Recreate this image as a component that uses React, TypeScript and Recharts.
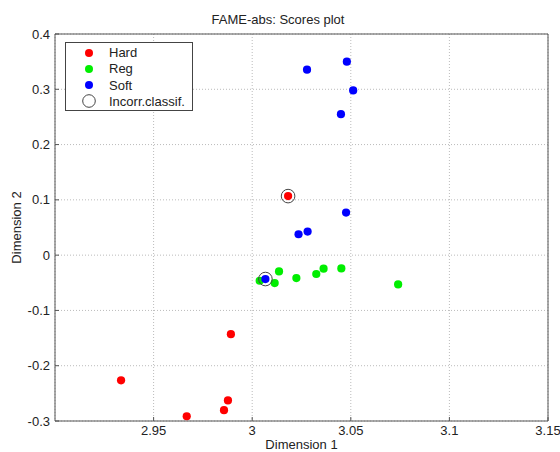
import { ScatterChart, Scatter, XAxis, YAxis, CartesianGrid } from 'recharts'

const hardX = [2.9335, 2.9668, 2.9857, 2.9877, 2.9892, 3.0182]
const hardY = [-0.2265, -0.2914, -0.2804, -0.2628, -0.143, 0.1068]
const regX = [3.0038, 3.0114, 3.0136, 3.0224, 3.0325, 3.0362, 3.0452, 3.074]
const regY = [-0.0463, -0.0505, -0.0294, -0.0414, -0.0341, -0.0245, -0.024, -0.053]
const softX = [3.0278, 3.048, 3.0512, 3.045, 3.0476, 3.0235, 3.0281, 3.0067]
const softY = [0.3354, 0.35, 0.298, 0.255, 0.077, 0.0378, 0.0427, -0.0432]
const incorrX = [3.0182, 3.0067]
const incorrY = [0.1068, -0.0432]

const xTicks = [2.95, 3, 3.05, 3.1, 3.15]
const yTicks = [-0.3, -0.2, -0.1, 0, 0.1, 0.2, 0.3, 0.4]

const toPoints = (xs: number[], ys: number[]) => xs.map((x, i) => ({ x, y: ys[i] }))

const FONT = '"Liberation Sans", Arial, sans-serif'
const tickStyle = { fontSize: 13, fill: '#222', fontFamily: FONT }
const axisColor = '#555'

const dot = (color: string) => (p: any) => <circle cx={p.cx} cy={p.cy} r={4.1} fill={color} />
const ring = (p: any) => <circle cx={p.cx} cy={p.cy} r={6.8} fill="none" stroke="#444" strokeWidth={1} />

const legendItems = [
  { label: 'Hard', color: '#ff0000' },
  { label: 'Reg', color: '#00ee00' },
  { label: 'Soft', color: '#0000ff' },
  { label: 'Incorr.classif.', color: null },
]

export default function App() {
  return (
    <div style={{ position: 'relative', width: 560, height: 452, background: '#fff', fontFamily: FONT }}>
      <style>{'body{margin:0}'}</style>
      <div
        style={{
          position: 'absolute',
          left: 178,
          width: 200,
          top: 12,
          textAlign: 'center',
          fontSize: 13,
          color: '#222',
        }}
      >
        FAME-abs: Scores plot
      </div>
      <ScatterChart width={560} height={452} margin={{ top: 33, right: 11, bottom: 0, left: 0 }}>
        <CartesianGrid stroke="#bbb" strokeDasharray="1 2" xAxisId="x" yAxisId="y" />
        <XAxis
          xAxisId="x"
          dataKey="x"
          type="number"
          domain={[2.9, 3.15]}
          ticks={xTicks}
          interval={0}
          height={31}
          tickSize={-4}
          tickMargin={9}
          tick={tickStyle}
          stroke={axisColor}
          tickFormatter={(v) => String(v)}
          label={{ value: 'Dimension 1', position: 'insideBottom', offset: 3, style: { ...tickStyle } }}
        />
        <XAxis
          xAxisId="top"
          orientation="top"
          type="number"
          domain={[2.9, 3.15]}
          ticks={xTicks}
          interval={0}
          height={1}
          tickSize={-4}
          tick={false}
          stroke={axisColor}
        />
        <YAxis
          yAxisId="y"
          dataKey="y"
          type="number"
          domain={[-0.3, 0.4]}
          ticks={yTicks}
          interval={0}
          width={55}
          tickSize={-4}
          tickMargin={9}
          tick={tickStyle}
          stroke={axisColor}
          tickFormatter={(v) => String(v)}
          label={{ value: 'Dimension 2', angle: -90, position: 'insideLeft', offset: 16, style: { ...tickStyle, textAnchor: 'middle' } }}
        />
        <YAxis
          yAxisId="r"
          orientation="right"
          type="number"
          domain={[-0.3, 0.4]}
          ticks={yTicks}
          interval={0}
          width={1}
          tickSize={-4}
          tick={false}
          stroke={axisColor}
        />
        <Scatter xAxisId="x" yAxisId="y" data={toPoints(hardX, hardY)} shape={dot('#ff0000')} isAnimationActive={false} />
        <Scatter xAxisId="x" yAxisId="y" data={toPoints(regX, regY)} shape={dot('#00ee00')} isAnimationActive={false} />
        <Scatter xAxisId="x" yAxisId="y" data={toPoints(softX, softY)} shape={dot('#0000ff')} isAnimationActive={false} />
        <Scatter xAxisId="x" yAxisId="y" data={toPoints(incorrX, incorrY)} shape={ring} isAnimationActive={false} />
      </ScatterChart>
      <div
        style={{
          position: 'absolute',
          left: 65,
          top: 42,
          width: 126,
          height: 67,
          border: '1px solid #444',
          background: '#fff',
          fontSize: 13,
          color: '#222',
        }}
      >
        {legendItems.map((it, i) => (
          <div key={it.label} style={{ position: 'absolute', top: 1.5 + i * 16.3, left: 0, height: 16, display: 'flex', alignItems: 'center' }}>
            <svg width={40} height={16}>
              {it.color ? (
                <circle cx={23} cy={8} r={4} fill={it.color} />
              ) : (
                <circle cx={23} cy={8} r={6.3} fill="none" stroke="#444" />
              )}
            </svg>
            <span style={{ marginLeft: 3 }}>{it.label}</span>
          </div>
        ))}
      </div>
    </div>
  )
}
